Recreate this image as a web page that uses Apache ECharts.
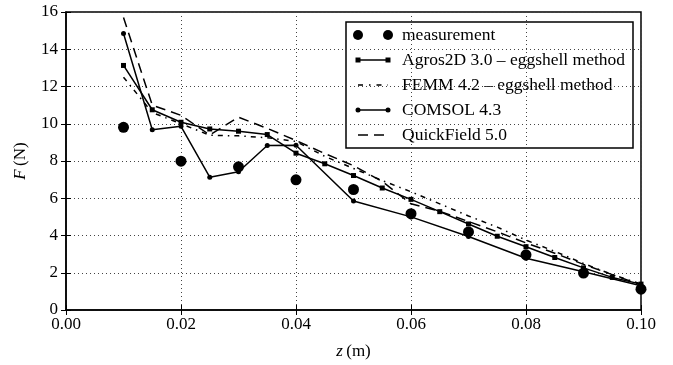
<!DOCTYPE html>
<html>
<head>
<meta charset="utf-8">
<script src="https://cdn.jsdelivr.net/npm/echarts@6/dist/echarts.min.js"></script>
<style>
  html, body { margin: 0; padding: 0; background: #fff; }
  #chart { width: 673px; height: 365px; }
</style>
</head>
<body>
<div id="chart"></div>
<script>
// z positions (m)
const zFine = [0.01, 0.015, 0.02, 0.025, 0.03, 0.035, 0.04, 0.045, 0.05, 0.055,
  0.06, 0.065, 0.07, 0.075, 0.08, 0.085, 0.09, 0.095, 0.10];
const zMeas = [0.01, 0.02, 0.03, 0.04, 0.05, 0.06, 0.07, 0.08, 0.09, 0.10];
const zComsol = [0.01, 0.015, 0.02, 0.025, 0.03, 0.035, 0.04, 0.05, 0.06, 0.07, 0.08, 0.09, 0.10];

// force F (N)
const measurement = [9.81, 7.99, 7.69, 6.99, 6.47, 5.17, 4.19, 2.96, 1.98, 1.12];
const agros = [13.13, 10.75, 10.08, 9.72, 9.6, 9.42, 8.42, 7.85, 7.22, 6.55,
  5.94, 5.28, 4.62, 3.96, 3.4, 2.82, 2.26, 1.75, 1.39];
const femm = [12.5, 10.6, 10.0, 9.38, 9.35, 9.25, 9.05, 8.25, 7.6, 6.95,
  6.35, 5.7, 5.05, 4.45, 3.75, 3.15, 2.5, 1.9, 1.4];
const comsol = [14.85, 9.68, 9.86, 7.13, 7.42, 8.83, 8.85, 5.85, 5.0, 3.95, 2.78, 2.05, 1.3];
const quickfield = [15.7, 11.0, 10.45, 9.4, 10.35, 9.75, 9.1, 8.4, 7.75, 6.9,
  5.7, 5.3, 4.75, 4.2, 3.6, 3.05, 2.45, 1.9, 1.35];

const legendNames = ['measurement', 'Agros2D 3.0 \u2013 eggshell method',
  'FEMM 4.2 \u2013 eggshell method', 'COMSOL 4.3', 'QuickField 5.0'];

const FONT = '"Liberation Serif", "DejaVu Serif", serif';
const DASHDOT = [5, 5, 1.5, 5];
const DASHED = [10, 6];

const pair = (xs, ys) => xs.map((x, i) => [x, ys[i]]);

// 图例: 手画成 matplotlib 的样子
const legendGraphic = () => {
  const lx = 346, ly = 22, w = 287, h = 126;
  const els = [{
    type: 'rect', shape: { x: lx, y: ly, width: w, height: h },
    style: { fill: '#fff', stroke: '#000', lineWidth: 1.5 }
  }];
  const x1 = 358, x2 = 388;
  legendNames.forEach((name, i) => {
    const y = 35 + 25 * i;
    if (i === 0) {
      els.push({ type: 'circle', shape: { cx: x1, cy: y, r: 5 }, style: { fill: '#000' } });
      els.push({ type: 'circle', shape: { cx: x2, cy: y, r: 5 }, style: { fill: '#000' } });
    } else {
      const dash = i === 2 ? [5, 6, 1.5, 6] : (i === 4 ? DASHED : null);
      els.push({ type: 'line', shape: { x1: x1, y1: y, x2: x2, y2: y },
        style: { stroke: '#000', lineWidth: 1.5, lineDash: dash } });
      if (i === 1) {
        els.push({ type: 'rect', shape: { x: x1 - 2.5, y: y - 2.5, width: 5, height: 5 }, style: { fill: '#000' } });
        els.push({ type: 'rect', shape: { x: x2 - 2.5, y: y - 2.5, width: 5, height: 5 }, style: { fill: '#000' } });
      }
      if (i === 3) {
        els.push({ type: 'circle', shape: { cx: x1, cy: y, r: 2.5 }, style: { fill: '#000' } });
        els.push({ type: 'circle', shape: { cx: x2, cy: y, r: 2.5 }, style: { fill: '#000' } });
      }
    }
    els.push({ type: 'text', x: 402, y: y,
      style: { text: name, font: '17.5px ' + FONT, fill: '#000', verticalAlign: 'middle' } });
  });
  return [{ type: 'group', z: 100, children: els }];
};

const tickStyle = { show: true, inside: true, length: 5, lineStyle: { color: '#000', width: 1 } };
const gridLine = { show: true, lineStyle: { color: '#444', width: 1, type: [1, 3] } };

const chart = echarts.init(document.getElementById('chart'), null, { renderer: 'canvas' });
chart.setOption({
  animation: false,
  backgroundColor: '#fff',
  textStyle: { fontFamily: FONT, color: '#000' },
  grid: { left: 66, right: 32, top: 12, bottom: 54, show: true,
    borderColor: '#000', borderWidth: 1.5, backgroundColor: 'transparent' },
  xAxis: [{
    type: 'value', min: 0, max: 0.1, interval: 0.02,
    axisLine: { show: true, lineStyle: { color: '#000', width: 1.5 } },
    axisTick: tickStyle,
    axisLabel: { color: '#000', fontSize: 17, fontFamily: FONT, margin: 6,
      formatter: v => v.toFixed(2) },
    splitLine: gridLine,
    name: '{i|z}\u2009(m)', nameLocation: 'middle', nameGap: 33,
    nameTextStyle: { fontSize: 17, fontFamily: FONT, color: '#000',
      rich: { i: { fontStyle: 'italic', fontSize: 17, fontFamily: FONT } } }
  }, {
    type: 'value', position: 'top', min: 0, max: 0.1, interval: 0.02,
    axisLine: { show: false }, axisTick: tickStyle,
    axisLabel: { show: false }, splitLine: { show: false }
  }],
  yAxis: [{
    type: 'value', min: 0, max: 16, interval: 2,
    axisLine: { show: true, lineStyle: { color: '#000', width: 1.5 } },
    axisTick: tickStyle,
    axisLabel: { color: '#000', fontSize: 17, fontFamily: FONT, margin: 8 },
    splitLine: gridLine,
    name: '{i|F}\u2009(N)', nameLocation: 'middle', nameGap: 37,
    nameTextStyle: { fontSize: 17, fontFamily: FONT, color: '#000',
      rich: { i: { fontStyle: 'italic', fontSize: 17, fontFamily: FONT } } }
  }, {
    type: 'value', position: 'right', min: 0, max: 16, interval: 2,
    axisLine: { show: false }, axisTick: tickStyle,
    axisLabel: { show: false }, splitLine: { show: false }
  }],
  series: [
    {
      name: legendNames[1], type: 'line', data: pair(zFine, agros),
      symbol: 'rect', symbolSize: 5, showSymbol: true,
      itemStyle: { color: '#000' }, lineStyle: { color: '#000', width: 1.5 }, z: 3
    },
    {
      name: legendNames[2], type: 'line', data: pair(zFine, femm), symbol: 'none',
      lineStyle: { color: '#000', width: 1.5, type: DASHDOT }, z: 2
    },
    {
      name: legendNames[3], type: 'line', data: pair(zComsol, comsol),
      symbol: 'circle', symbolSize: 5, showSymbol: true,
      itemStyle: { color: '#000' }, lineStyle: { color: '#000', width: 1.5 }, z: 3
    },
    {
      name: legendNames[4], type: 'line', data: pair(zFine, quickfield), symbol: 'none',
      lineStyle: { color: '#000', width: 1.5, type: DASHED }, z: 2
    },
    {
      name: legendNames[0], type: 'scatter', data: pair(zMeas, measurement),
      symbol: 'circle', symbolSize: 11, itemStyle: { color: '#000', opacity: 1 }, z: 4
    }
  ],
  graphic: legendGraphic()
});
</script>
</body>
</html>
